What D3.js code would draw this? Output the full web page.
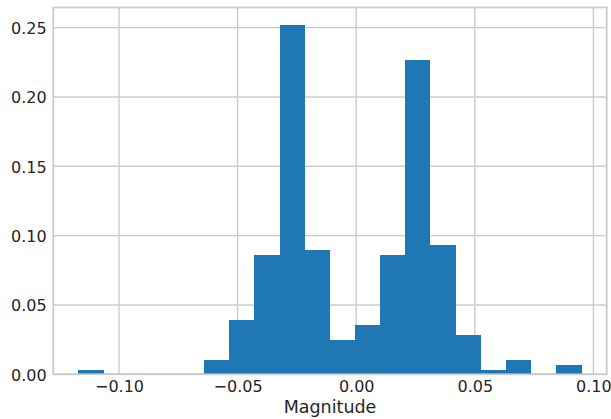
<!DOCTYPE html>
<html>
<head>
<meta charset="utf-8">
<script src="https://cdn.jsdelivr.net/npm/d3@7"></script>
<style>
  html, body { margin: 0; padding: 0; background: #ffffff; }
  svg { display: block; }
  text { font-family: "DejaVu Sans", sans-serif; fill: #262626; }
</style>
</head>
<body>
<svg id="chart" width="611" height="419"></svg>
<script>
// Histogram bin edges (21 edges -> 20 bins) of the magnitude values
const binEdges = [
  -0.1171, -0.1065, -0.0959, -0.0853, -0.0747, -0.0641, -0.0535,
  -0.0429, -0.0323, -0.0217, -0.0111, -0.0005, 0.0101, 0.0207,
  0.0313, 0.0420, 0.0526, 0.0632, 0.0738, 0.0844, 0.0950
];
// Fraction of samples falling in each bin
const binFractions = [
  0.0031, 0, 0, 0, 0, 0.0103, 0.0394, 0.0860, 0.2519, 0.0897,
  0.0247, 0.0356, 0.0860, 0.2267, 0.0933, 0.0284, 0.0031, 0.0103, 0, 0.0067
];
const xTicks = [-0.10, -0.05, 0.00, 0.05, 0.10];
const yTicks = [0.00, 0.05, 0.10, 0.15, 0.20, 0.25];
const xLabel = "Magnitude";

const bins = binFractions.map((v, i) => ({ x0: binEdges[i], x1: binEdges[i + 1], value: v }));

const svg = d3.select("#chart");
const margin = { left: 53.3, right: 611 - 606.7, top: 7.5, bottom: 419 - 374.3 };
const W = 611, H = 419;
const iw = W - margin.left - margin.right;
const ih = H - margin.top - margin.bottom;

// Axis limits with 5% padding, like the default autoscale
const xMin = d3.min(binEdges), xMax = d3.max(binEdges);
const xPad = (xMax - xMin) * 0.05;
const yMax = d3.max(binFractions) * 1.05;

const x = d3.scaleLinear().domain([xMin - xPad, xMax + xPad]).range([0, iw]);
const y = d3.scaleLinear().domain([0, yMax]).range([ih, 0]);

const g = svg.append("g").attr("transform", `translate(${margin.left},${margin.top})`);

const gridColor = "#cccccc";
const barColor = "#1f77b4";
const fmt = d3.format(".2f");

// Grid lines
g.append("g")
  .selectAll("line")
  .data(xTicks)
  .join("line")
  .attr("x1", d => x(d)).attr("x2", d => x(d))
  .attr("y1", 0).attr("y2", ih)
  .attr("stroke", gridColor).attr("stroke-width", 1.4);

g.append("g")
  .selectAll("line")
  .data(yTicks)
  .join("line")
  .attr("x1", 0).attr("x2", iw)
  .attr("y1", d => y(d)).attr("y2", d => y(d))
  .attr("stroke", gridColor).attr("stroke-width", 1.4);

// Bars, snapped to the pixel grid so neighbouring bins join without seams
g.append("g")
  .attr("shape-rendering", "crispEdges")
  .selectAll("rect")
  .data(bins.filter(d => d.value > 0))
  .join("rect")
  .attr("x", d => x(d.x0))
  .attr("width", d => x(d.x1) - x(d.x0))
  .attr("y", d => y(d.value))
  .attr("height", d => y(0) - y(d.value))
  .attr("fill", barColor);

// Empty bins leave only a faint trace on the baseline
g.append("g")
  .selectAll("line")
  .data(bins.filter(d => d.value === 0))
  .join("line")
  .attr("x1", d => x(d.x0)).attr("x2", d => x(d.x1))
  .attr("y1", y(0) - 0.5).attr("y2", y(0) - 0.5)
  .attr("stroke", barColor)
  .attr("stroke-opacity", 0.35)
  .attr("stroke-width", 1);

// Axes (labels only, no tick marks)
const xAxis = g.append("g")
  .attr("transform", `translate(0,${ih})`)
  .call(d3.axisBottom(x).tickValues(xTicks).tickFormat(fmt).tickSize(0).tickPadding(0));
xAxis.select(".domain").remove();
xAxis.selectAll("text")
  .attr("y", 18)
  .attr("dy", 0)
  .style("font-size", "16px")
  .style("font-family", "DejaVu Sans")
  .attr("fill", "#262626");

const yAxis = g.append("g")
  .call(d3.axisLeft(y).tickValues(yTicks).tickFormat(fmt).tickSize(0).tickPadding(0));
yAxis.select(".domain").remove();
yAxis.selectAll("text")
  .attr("x", -6.6)
  .attr("dy", "0.36em")
  .style("font-size", "16px")
  .style("font-family", "DejaVu Sans")
  .attr("fill", "#262626");

// Frame
g.append("rect")
  .attr("x", 0).attr("y", 0)
  .attr("width", iw).attr("height", ih)
  .attr("fill", "none")
  .attr("stroke", gridColor)
  .attr("stroke-width", 1.8);

// Axis title, centred under the plot area
svg.append("text")
  .attr("x", margin.left + iw / 2)
  .attr("y", 412.5)
  .attr("text-anchor", "middle")
  .style("font-size", "17.5px")
  .text(xLabel);
</script>
</body>
</html>
